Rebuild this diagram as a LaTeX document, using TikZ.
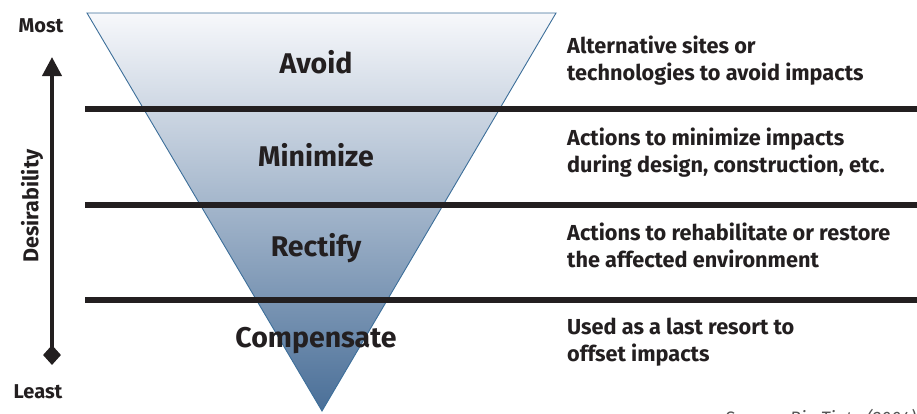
\documentclass[tikz,border=0pt]{standalone}
\usepackage{fontspec}
\setmainfont{Fira Sans}
\usetikzlibrary{arrows.meta,shapes.geometric}
\definecolor{bar}{HTML}{231F20}
\definecolor{edge}{HTML}{3D6F9A}
\definecolor{topc}{HTML}{F7F8FB}
\definecolor{botc}{HTML}{4A6F98}
\definecolor{src}{HTML}{555555}
\tikzset{
  lvl/.style={font=\fontsize{28.5}{30}\selectfont\bfseries, text=bar, inner sep=0pt},
  desc/.style={font=\fontsize{21.7}{27}\selectfont\bfseries, text=bar, align=left, anchor=north west, inner sep=0pt},
  axislbl/.style={font=\fontsize{20}{22}\selectfont\bfseries, text=bar, inner sep=0pt},
  hbar/.style={line width=6pt, draw=bar},
}
\begin{document}
\begin{tikzpicture}[x=1pt,y=-1pt]
\useasboundingbox (0,0) rectangle (917,413);
% funnel
\coordinate (tl) at (87,13);
\coordinate (tr) at (556,13);
\coordinate (ap) at (322,411);
\shade[top color=topc, bottom color=botc] (tl) -- (tr) -- (ap) -- cycle;
\draw[edge, line width=0.9pt, line join=miter] (tl) -- (tr) -- (ap) -- cycle;
% bars
\coordinate (b1l) at (85,109); \coordinate (b1r) at (917,109);
\coordinate (b2l) at (85,205); \coordinate (b2r) at (917,205);
\coordinate (b3l) at (85,300); \coordinate (b3r) at (917,300);
\draw[hbar] (b1l) -- (b1r);
\draw[hbar] (b2l) -- (b2r);
\draw[hbar] (b3l) -- (b3r);
% level names
\node[lvl] (avoid) at (316,62) {Avoid};
\node[lvl] (minimize) at (316,155) {Minimize};
\node[lvl] (rectify) at (316,248) {Rectify};
\node[lvl] (compensate) at (316,341) {Compensate};
% descriptions
\node[desc] (d1) at (567,36) {Alternative sites or\\technologies to avoid impacts};
\node[desc] (d2) at (567,128) {Actions to minimize impacts\\during design, construction, etc.};
\node[desc] (d3) at (567,223) {Actions to rehabilitate or restore\\the affected environment};
\node[desc] (d4) at (567,318) {Used as a last resort to\\offset impacts};
% axis
\node[axislbl, anchor=base] (most) at (41,32) {Most};
\node[axislbl, anchor=base] (least) at (38,398) {Least};
\node[axislbl, font=\fontsize{21.5}{22}\selectfont\bfseries, rotate=90] (des) at (32,206) {Desirability};
\coordinate (atop) at (52,57);
\coordinate (abot) at (52,355);
\node[diamond, fill=bar, inner sep=0pt, minimum width=18pt, minimum height=20pt] (dia) at (abot) {};
\draw[line width=4pt, draw=bar, -{Triangle[width=19pt,length=19pt]}] (dia.center) -- (atop);
% source
\node[anchor=base west, inner sep=0pt, font=\fontsize{18}{20}\selectfont\itshape, text=src] (source) at (725,424) {Source: Rio Tinto (2004)};
\end{tikzpicture}
\end{document}
